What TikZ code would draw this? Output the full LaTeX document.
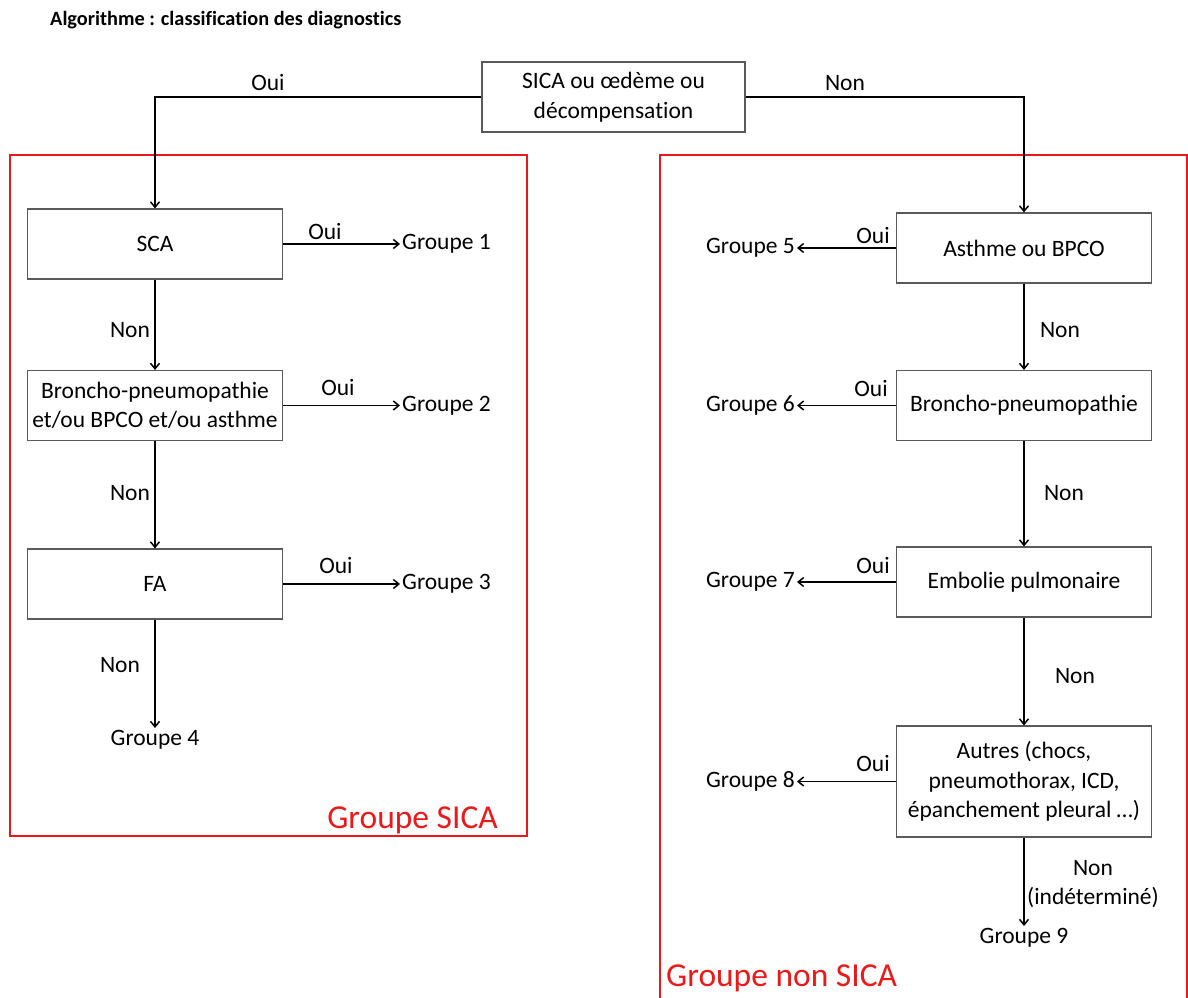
\documentclass[tikz,border=0pt]{standalone}
\usepackage{fontspec}
\setmainfont{Carlito}[Ligatures=NoCommon]
\usetikzlibrary{arrows.meta}
\definecolor{boxgray}{RGB}{90,90,90}
\definecolor{frame}{RGB}{235,25,25}
\tikzset{
  box/.style={draw=boxgray, line width=1.1pt, minimum width=255pt, minimum height=70pt, align=center, inner sep=2pt},
  arr/.style={line width=1.5pt, -{Straight Barb[length=5.5pt,width=9pt,line width=1.5pt]}},
  lbl/.style={inner sep=0pt},
  grp/.style={inner sep=2pt},
  redframe/.style={draw=frame, line width=2pt},
  redlbl/.style={text=frame, font=\fontsize{33.5}{38}\selectfont, inner sep=0pt}
}
\begin{document}
\begin{tikzpicture}[x=1pt, y=-1pt, font=\fontsize{23.5}{29.5}\selectfont]
\useasboundingbox (0,0) rectangle (1188,998);
\fill[white] (0,0) rectangle (1188,998);
% title
\node[anchor=west, inner sep=0pt, font=\fontsize{20.3}{24}\selectfont\bfseries] (title) at (50,20) {Algorithme : classification des diagnostics};
% frames
\draw[redframe] (10,155) rectangle (527,836);
\draw[redframe] (660,1010) -- (660,155) -- (1187,155) -- (1187,1010);
\node[redlbl, anchor=east] (lsica) at (498,820) {Groupe SICA};
\node[redlbl, anchor=west] (lnsica) at (666,978) {Groupe non SICA};
% top box
\node[box, minimum width=263pt] (top) at (613.5,97) {SICA ou œdème ou\\décompensation};
% left column
\node[box] (sca) at (155,244) {SCA};
\node[box] (bp) at (155,405.5) {Broncho-pneumopathie\\et/ou BPCO et/ou asthme};
\node[box] (fa) at (155,584) {FA};
\node[grp, anchor=north] (g4) at (155,728) {Groupe 4};
\node[grp, anchor=west] (g1) at (400,244) {Groupe 1};
\node[grp, anchor=west] (g2) at (400,405.5) {Groupe 2};
\node[grp, anchor=west] (g3) at (400,584) {Groupe 3};
% right column
\node[box] (ab) at (1024,248) {Asthme ou BPCO};
\node[box] (bp2) at (1024,405.5) {Broncho-pneumopathie};
\node[box] (ep) at (1024,582) {Embolie pulmonaire};
\node[box, minimum height=111pt] (au) at (1024,781.5) {Autres (chocs,\\pneumothorax, ICD,\\épanchement pleural …)};
\node[grp, anchor=east] (g5) at (797,248) {Groupe 5};
\node[grp, anchor=east] (g6) at (797,405.5) {Groupe 6};
\node[grp, anchor=east] (g7) at (797,582) {Groupe 7};
\node[grp, anchor=east] (g8) at (797,781.5) {Groupe 8};
\node[grp, anchor=north] (g9) at (1024,926) {Groupe 9};
% connectors
\draw[arr] (top.west) -| (sca.north);
\draw[arr] (top.east) -| (ab.north);
\draw[arr] (sca.south) -- (bp.north);
\draw[arr] (bp.south) -- (fa.north);
\draw[arr] (fa.south) -- (g4.north);
\draw[arr] (sca.east) -- (g1.west);
\draw[arr] (bp.east) -- (g2.west);
\draw[arr] (fa.east) -- (g3.west);
\draw[arr] (ab.south) -- (bp2.north);
\draw[arr] (bp2.south) -- (ep.north);
\draw[arr] (ep.south) -- (au.north);
\draw[arr] (au.south) -- (g9.north);
\draw[arr] (ab.west) -- (g5.east);
\draw[arr] (bp2.west) -- (g6.east);
\draw[arr] (ep.west) -- (g7.east);
\draw[arr] (au.west) -- (g8.east);
% connector labels
\node[lbl] (l0) at (268,83) {Oui};
\node[lbl] (l00) at (845,83) {Non};
\node[lbl] (l1) at (325,231) {Oui};
\node[lbl] (l2) at (130,330) {Non};
\node[lbl] (l3) at (338,387) {Oui};
\node[lbl] (l4) at (130,493) {Non};
\node[lbl] (l5) at (336,565) {Oui};
\node[lbl] (l6) at (120,665) {Non};
\node[lbl] (l7) at (873,236) {Oui};
\node[lbl] (l8) at (1060,330) {Non};
\node[lbl] (l9) at (871,388) {Oui};
\node[lbl] (l10) at (1064,493) {Non};
\node[lbl] (l11) at (873,565) {Oui};
\node[lbl] (l12) at (1075,676) {Non};
\node[lbl] (l13) at (873,763) {Oui};
\node[lbl, align=center] (l14) at (1093,884) {Non\\(indéterminé)};
\end{tikzpicture}
\end{document}
